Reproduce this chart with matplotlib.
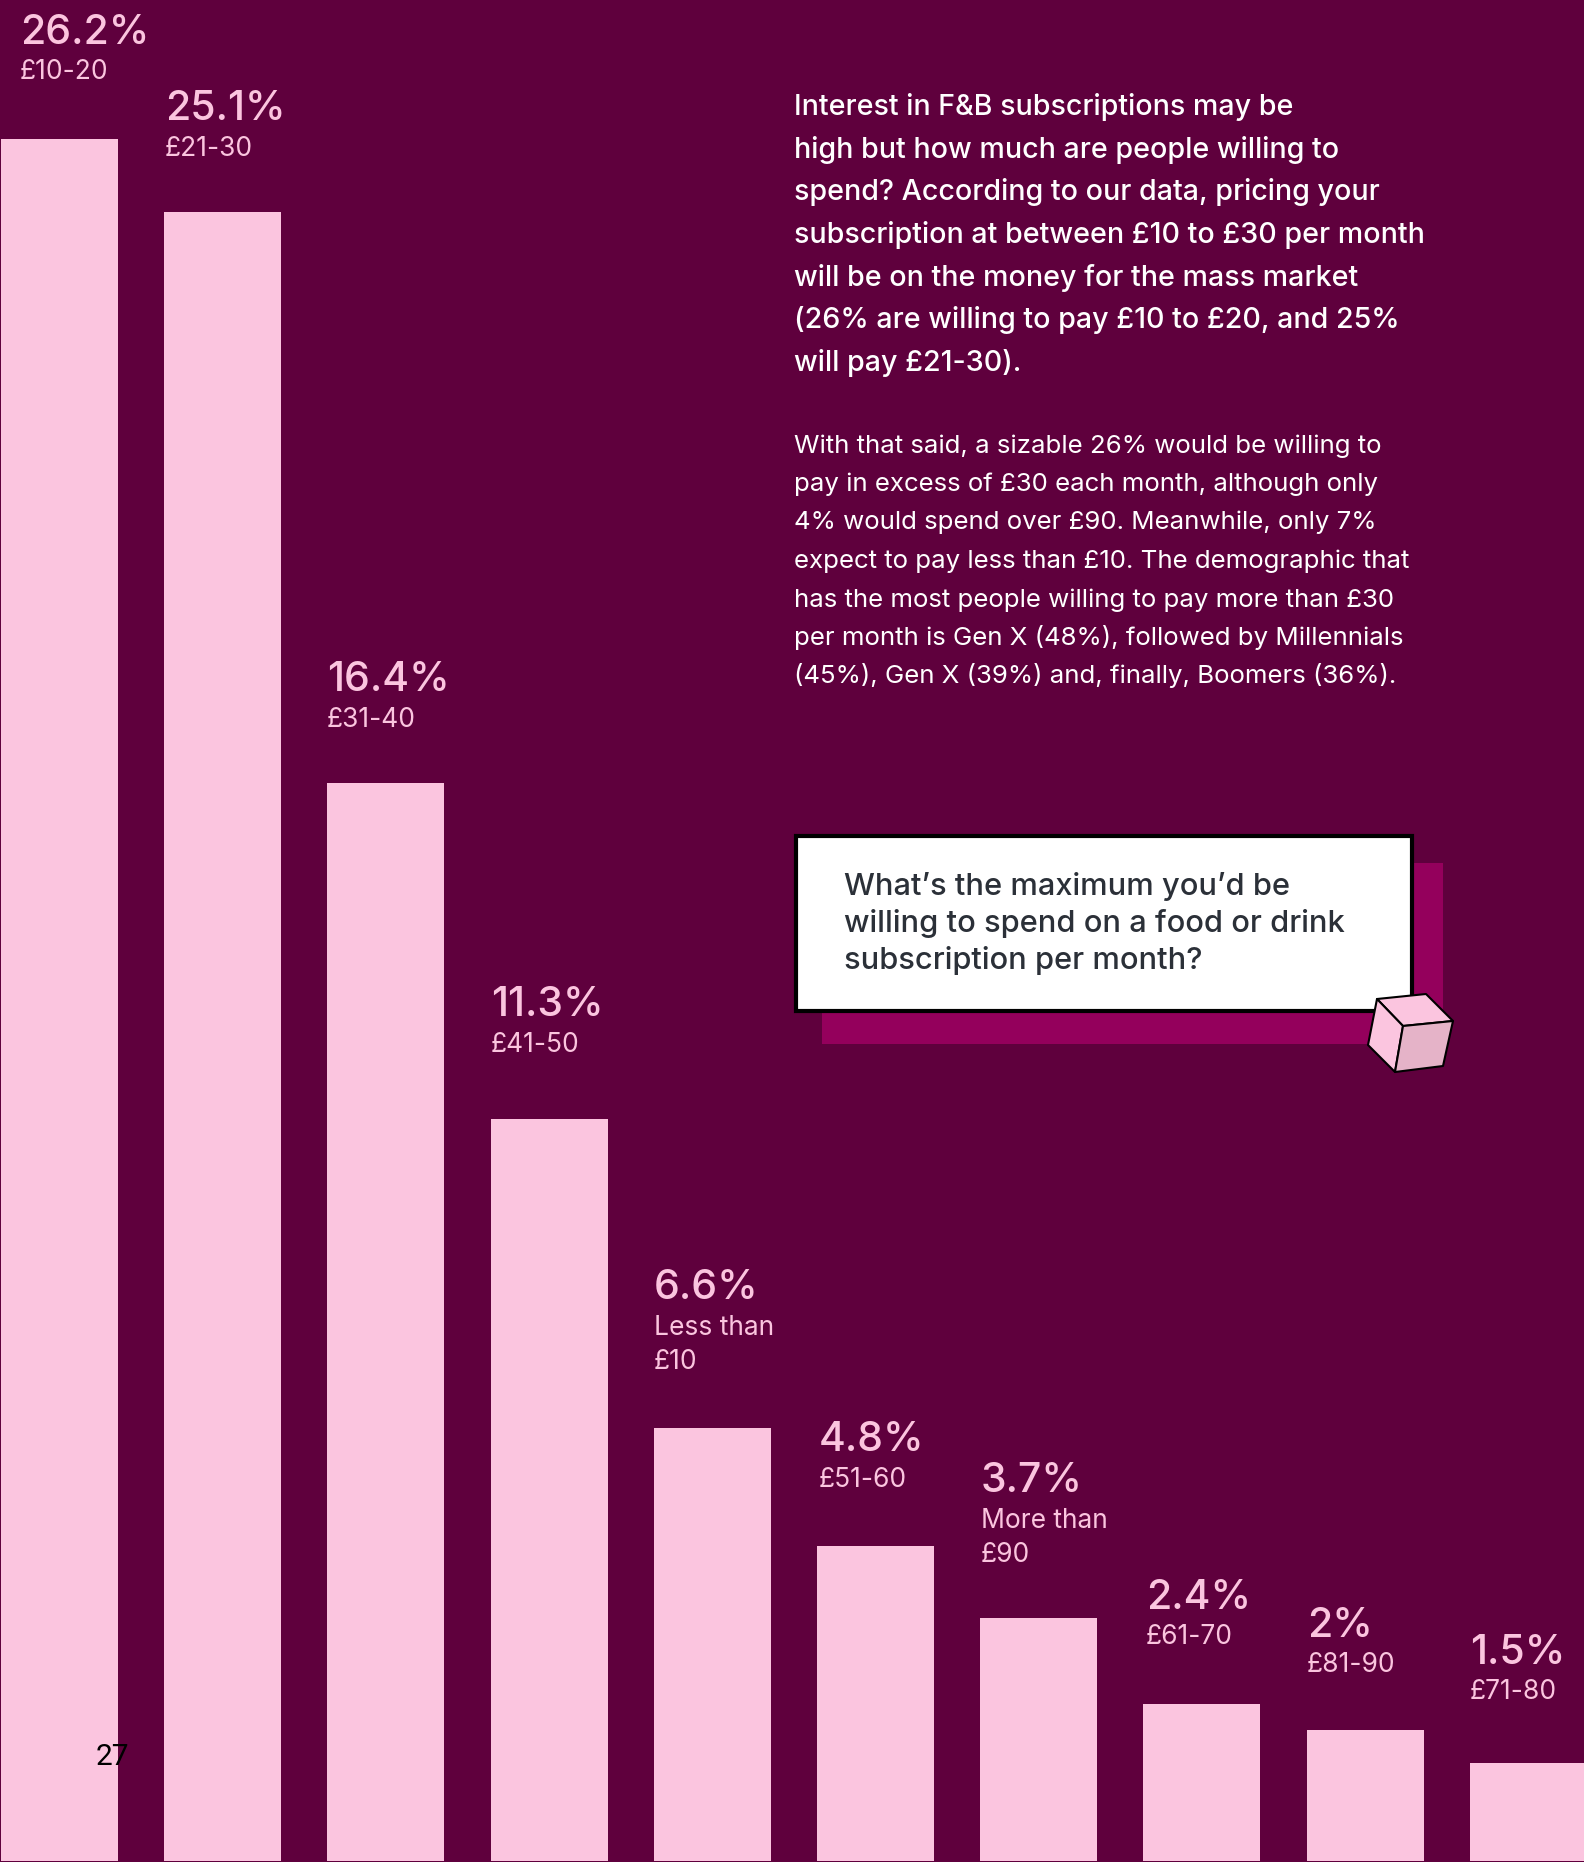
#!/usr/bin/env python3
"""Subscription spend bars with commentary panel."""

import matplotlib
matplotlib.use('Agg')
import matplotlib.pyplot as plt
from matplotlib.patches import Polygon, Rectangle

# Data
shares = [26.2, 25.1, 16.4, 11.3, 6.6, 4.8, 3.7, 2.4, 2, 1.5]
share_labels = ['26.2%', '25.1%', '16.4%', '11.3%', '6.6%', '4.8%', '3.7%', '2.4%', '2%', '1.5%']
bands = ['£10-20', '£21-30', '£31-40', '£41-50', 'Less than\n£10', '£51-60',
         'More than\n£90', '£61-70', '£81-90', '£71-80']

lead_lines = ['Interest in F&B subscriptions may be',
              'high but how much are people willing to',
              'spend? According to our data, pricing your',
              'subscription at between £10 to £30 per month',
              'will be on the money for the mass market',
              '(26% are willing to pay £10 to £20, and 25%',
              'will pay £21-30).']
body_lines = ['With that said, a sizable 26% would be willing to',
              'pay in excess of £30 each month, although only',
              '4% would spend over £90. Meanwhile, only 7%',
              'expect to pay less than £10. The demographic that',
              'has the most people willing to pay more than £30',
              'per month is Gen X (48%), followed by Millennials',
              '(45%), Gen X (39%) and, finally, Boomers (36%).']
question_lines = ["What’s the maximum you’d be",
                  'willing to spend on a food or drink',
                  'subscription per month?']

# Layout, in figure pixels
W, H = 1584, 1862
label_x = [20, 165, 327, 491, 654, 819, 981, 1146, 1307, 1470]
label_y = [44, 120, 691, 1016, 1299, 1451, 1492, 1609, 1637, 1664]
band_drop = [35, 36, 36, 36, 36, 36, 36, 35, 35, 35]

BG = '#5F003D'
PINK = '#FBC5DF'
SHADOW = '#94005C'
FONT = 'Inter'

plt.rcParams['font.family'] = [FONT, 'DejaVu Sans']

fig = plt.figure(figsize=(W / 100, H / 100), dpi=100, facecolor=BG)

# Bars: one unit of x is one bar pitch, y is the percentage
ax = fig.add_axes([0, 0, 1, 1], facecolor=BG)
pitch = 163.2
per_point = 65.73
ax.bar(range(len(shares)), shares, width=117 / pitch, color=PINK, linewidth=0)
ax.set_xlim(-59.5 / pitch, (W - 59.5) / pitch)
ax.set_ylim(-0.6 / per_point, (H - 0.6) / per_point)
ax.axis('off')

# Overlay in pixel coordinates for text and panel
ov = fig.add_axes([0, 0, 1, 1], facecolor='none')
ov.set_xlim(0, W)
ov.set_ylim(H, 0)
ov.axis('off')

for x, y, drop, pct, band in zip(label_x, label_y, band_drop, share_labels, bands):
    ov.text(x, y, pct, fontsize=29.5, fontweight='medium', color=PINK, va='baseline', ha='left')
    for i, line in enumerate(band.split('\n')):
        ov.text(x, y + drop + i * 34, line, fontsize=19, color=PINK, va='baseline', ha='left')

for i, line in enumerate(lead_lines):
    ov.text(794, 115 + i * 42.7, line, fontsize=20.6, fontweight='medium', color='white', va='baseline')
for i, line in enumerate(body_lines):
    ov.text(794, 452.5 + i * 38.5, line, fontsize=18.6, color='white', va='baseline')

# Question card with offset shadow
ov.add_patch(Rectangle((822, 863), 621, 181, facecolor=SHADOW, linewidth=0))
ov.add_patch(Rectangle((796, 836), 616, 175, facecolor='white', edgecolor='black', linewidth=3))
for i, line in enumerate(question_lines):
    ov.text(844, 895 + i * 36.9, line, fontsize=22.2, fontweight='medium', color='#2B3038', va='baseline')

# Cube on the card corner
a, b, c, d = (1377, 999), (1426, 994), (1453, 1021), (1403, 1026)
e, f, g = (1368, 1045), (1395, 1072), (1443, 1066)
for pts, col in [((a, b, c, d), PINK), ((a, d, f, e), PINK), ((d, c, g, f), '#E5B3C8')]:
    ov.add_patch(Polygon(pts, closed=True, facecolor=col, edgecolor='black', linewidth=1.5, joinstyle='round'))

# Page number
ov.text(95.5, 1765, '27', fontsize=21.5, color='black', family='Roboto', va='baseline')

fig.savefig('out.png', dpi=100, facecolor=BG)
